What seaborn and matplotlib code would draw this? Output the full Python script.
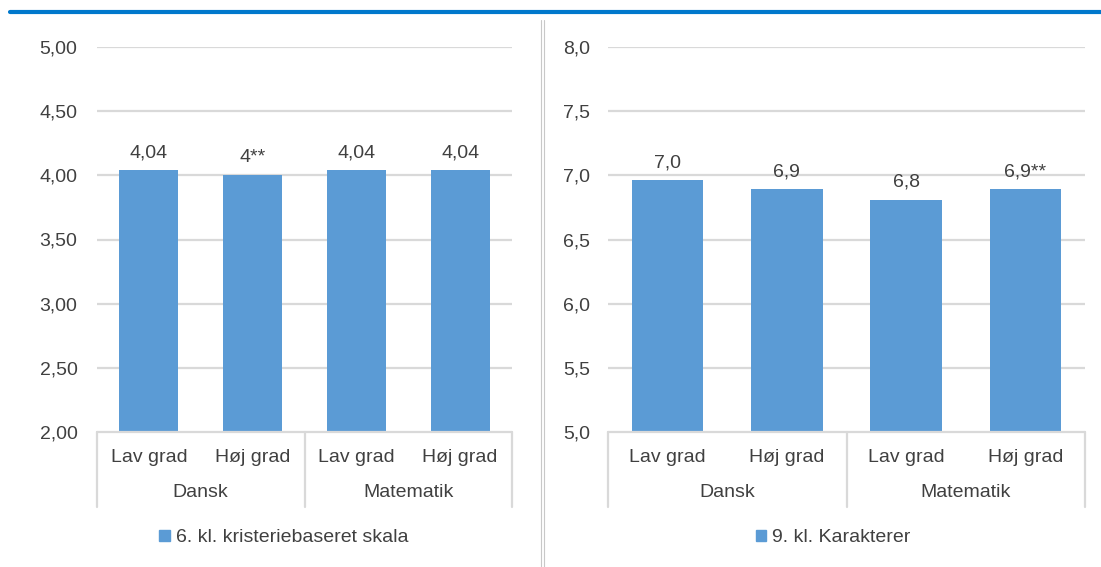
import matplotlib
matplotlib.use("Agg")
import matplotlib.pyplot as plt
from matplotlib.patches import Patch
from matplotlib.lines import Line2D
import seaborn as sns
import pandas as pd

# Data
subjects = ["Dansk", "Dansk", "Matematik", "Matematik"]
levels = ["Lav grad", "Høj grad", "Lav grad", "Høj grad"]
scores_6kl = [4.04, 4.00, 4.04, 4.04]
marks_6kl = ["", "**", "", ""]
scores_9kl = [6.96, 6.89, 6.81, 6.89]
marks_9kl = ["", "", "", "**"]
legend_6kl = "6. kl. kristeriebaseret skala"
legend_9kl = "9. kl. Karakterer"
yticks_6kl = [2.0, 2.5, 3.0, 3.5, 4.0, 4.5, 5.0]
yticks_9kl = [5.0, 5.5, 6.0, 6.5, 7.0, 7.5, 8.0]

BAR = "#5B9BD5"
GRID = "#D9D9D9"
TXT = "#404040"
FS = 14

sns.set_theme(style="white")
plt.rcParams["font.family"] = ["Liberation Sans", "DejaVu Sans"]

W, H = 1101, 567
fig = plt.figure(figsize=(W / 100, H / 100), dpi=100)


def px_axes(x0, x1, ytop, ybot):
    return fig.add_axes([x0 / W, 1 - ybot / H, (x1 - x0) / W, (ybot - ytop) / H])


def draw_panel(ax, values, marks, ticks, fmt_tick, fmt_label, width, legend_text, legend_x, pad):
    df = pd.DataFrame({"pos": [0, 1, 2, 3], "score": values})
    sns.barplot(data=df, x="pos", y="score", color=BAR, saturation=1,
                width=width, ax=ax, order=[0, 1, 2, 3], edgecolor="none")
    ax.set_ylim(ticks[0], ticks[-1])
    ax.set_xlim(-0.5, 3.5)
    ax.set_yticks(ticks)
    ax.set_yticklabels([fmt_tick(t) for t in ticks], fontsize=FS, color=TXT)
    ax.tick_params(axis="y", length=0, pad=pad)
    ax.set_xticks([])
    ax.set_xlabel("")
    ax.set_ylabel("")
    for s in ax.spines.values():
        s.set_visible(False)
    for t in ticks[1:]:
        ax.axhline(t, color=GRID, lw=1.6, zorder=0)

    # value labels above the bars
    for i, (v, m) in enumerate(zip(values, marks)):
        ax.annotate(fmt_label(v) + m, xy=(i, v), xytext=(0, 6.5), textcoords="offset points",
                    ha="center", va="bottom", fontsize=FS, color=TXT)

    # two-level category axis
    depth = -0.195
    kw = dict(color=GRID, lw=1.6, transform=ax.transAxes, clip_on=False)
    ax.add_line(Line2D([0, 1], [0, 0], **kw))
    for xx in (0, 0.5, 1):
        ax.add_line(Line2D([xx, xx], [0, depth], **kw))
    for i, lv in enumerate(levels):
        ax.text((i + 0.5) / 4, -0.065, lv, transform=ax.transAxes, ha="center",
                va="center", fontsize=FS, color=TXT)
    for j, sub in enumerate([subjects[0], subjects[2]]):
        ax.text(0.25 + 0.5 * j, -0.158, sub, transform=ax.transAxes, ha="center",
                va="center", fontsize=FS, color=TXT)

    fig.legend(handles=[Patch(color=BAR, label=legend_text)], loc="center",
               bbox_to_anchor=(legend_x / W, 1 - 538 / H), frameon=False,
               fontsize=FS, labelcolor=TXT, handlelength=0.55, handleheight=0.55,
               handletextpad=0.3, borderpad=0)


def comma(s):
    return s.replace(".", ",")


ax1 = px_axes(97, 512, 47, 432)
draw_panel(ax1, scores_6kl, marks_6kl, yticks_6kl,
           lambda t: comma(f"{t:.2f}"), lambda v: comma(f"{v:g}"),
           0.57, legend_6kl, 284, 14)

ax2 = px_axes(608, 1085, 47, 432)
draw_panel(ax2, scores_9kl, marks_9kl, yticks_9kl,
           lambda t: comma(f"{t:.1f}"), lambda v: comma(f"{v:.1f}"),
           0.6, legend_9kl, 833, 13)

# frame decorations: blue top rule and double divider between the panels
fig.add_artist(Line2D([10 / W, 1], [1 - 11.5 / H, 1 - 11.5 / H], color="#0078CC", lw=3))
for xd in (541, 543.5):
    fig.add_artist(Line2D([xd / W, xd / W], [0, 1 - 20 / H], color="#C8C8C8", lw=0.8))

fig.savefig("out.png", dpi=100, facecolor="white")
